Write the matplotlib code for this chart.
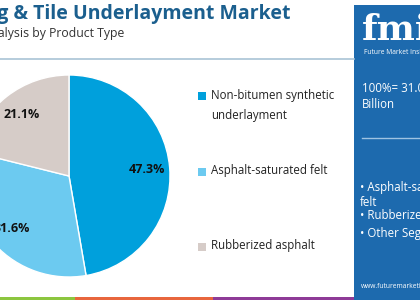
""" Roofing & tile underlayment market share by product type (pie) """

import matplotlib.pyplot as plt
from matplotlib.patches import Rectangle
from matplotlib.lines import Line2D

# Segment data
segments = ["Non-bitumen synthetic\nunderlayment", "Asphalt-saturated felt", "Rubberized asphalt"]
shares = [47.3, 31.6, 21.1]
colors = ["#00a0dc", "#6ccaf0", "#d6ccc8"]

title = "Roofing & Tile Underlayment Market"
subtitle = "Market Analysis by Product Type"
market_size = "100%= 31.0 USD"
panel_bullets = ["\u2022 Asphalt-saturated\nfelt", "\u2022 Rubberized asphalt", "\u2022 Other Segments"]
stripe_colors = ["#8cc63f", "#e8663d", "#8e3b97"]

plt.rcParams["font.family"] = ["Open Sans", "DejaVu Sans"]

W, H = 420, 300
fig = plt.figure(figsize=(W / 100, H / 100), dpi=100)
fig.patch.set_facecolor("white")


def fx(px):
    return px / W


def fy(py):
    return 1 - py / H


# Pie axes: centre (69, 176) px, radius 101 px
cx, cy, r = 69, 176, 101
ax = fig.add_axes([fx(cx - r), fy(cy + r), 2 * r / W, 2 * r / H])
wedges, texts, autotexts = ax.pie(
    shares, colors=colors, startangle=90, counterclock=False,
    autopct="%.1f%%", pctdistance=0.77,
    wedgeprops=dict(edgecolor="white", linewidth=1),
    textprops=dict(fontsize=9, fontweight="bold", color="#111111"),
)
ax.set_xlim(-1, 1)
ax.set_ylim(-1, 1)
ax.set_aspect("auto")
ax.axis("off")

# Title and subtitle (cropped at the left edge, as in the source)
fig.text(fx(291), fy(14), title, ha="right", va="center", fontsize=14,
         fontweight="bold", color="#1b5f8e")
fig.text(fx(124), fy(34), subtitle, ha="right", va="center", fontsize=8.8,
         color="#333333")

# Separator line under the header
fig.add_artist(Line2D([0, fx(354)], [fy(59), fy(59)], color="#a9c4d6",
                      linewidth=1.2))

# Legend on the right side of the pie
legend_y = [96, 172, 247]
for lab, col, y in zip(segments, colors, legend_y):
    fig.add_artist(Rectangle((fx(198), fy(y + 4)), fx(8), 8 / H,
                             facecolor=col, edgecolor="none"))
    if "\n" in lab:
        fig.text(fx(211), fy(y - 7), lab, ha="left", va="top", fontsize=8.3,
                 color="#222222", linespacing=1.65)
    else:
        fig.text(fx(211), fy(y - 1), lab, ha="left", va="center", fontsize=8.3,
                 color="#222222")

# Blue side panel
fig.add_artist(Rectangle((fx(354), 0), fx(W - 354), fy(5), facecolor="#1d6aae",
                         edgecolor="none"))
fig.text(fx(362), fy(30), "fmi", ha="left", va="center", fontsize=26,
         fontweight="bold", color="white", family="DejaVu Serif")
fig.text(fx(364), fy(52), "Future Market Insights", ha="left", va="center",
         fontsize=4.8, color="white")
fig.text(fx(362), fy(88), market_size, ha="left", va="center", fontsize=8.3,
         color="white")
fig.text(fx(362), fy(105), "Billion", ha="left", va="center", fontsize=8.3,
         color="white")
fig.add_artist(Line2D([fx(362), 1], [fy(138), fy(138)], color="#9fc3e2",
                      linewidth=1))
fig.text(fx(360), fy(181), panel_bullets[0], ha="left", va="top", fontsize=8.3,
         color="white", linespacing=1.15)
fig.text(fx(360), fy(216), panel_bullets[1], ha="left", va="center",
         fontsize=8.3, color="white")
fig.text(fx(360), fy(233), panel_bullets[2], ha="left", va="center",
         fontsize=8.3, color="white")
fig.text(fx(361), fy(287), "www.futuremarketinsights.com", ha="left",
         va="center", fontsize=4.8, color="white")

# Coloured strip along the bottom
stripe_x = [0, 75, 213, 354]
for i, col in enumerate(stripe_colors):
    fig.add_artist(Rectangle((fx(stripe_x[i]), 0), fx(stripe_x[i + 1] - stripe_x[i]),
                             3 / H, facecolor=col, edgecolor="none"))

fig.savefig("out.png", dpi=100)
